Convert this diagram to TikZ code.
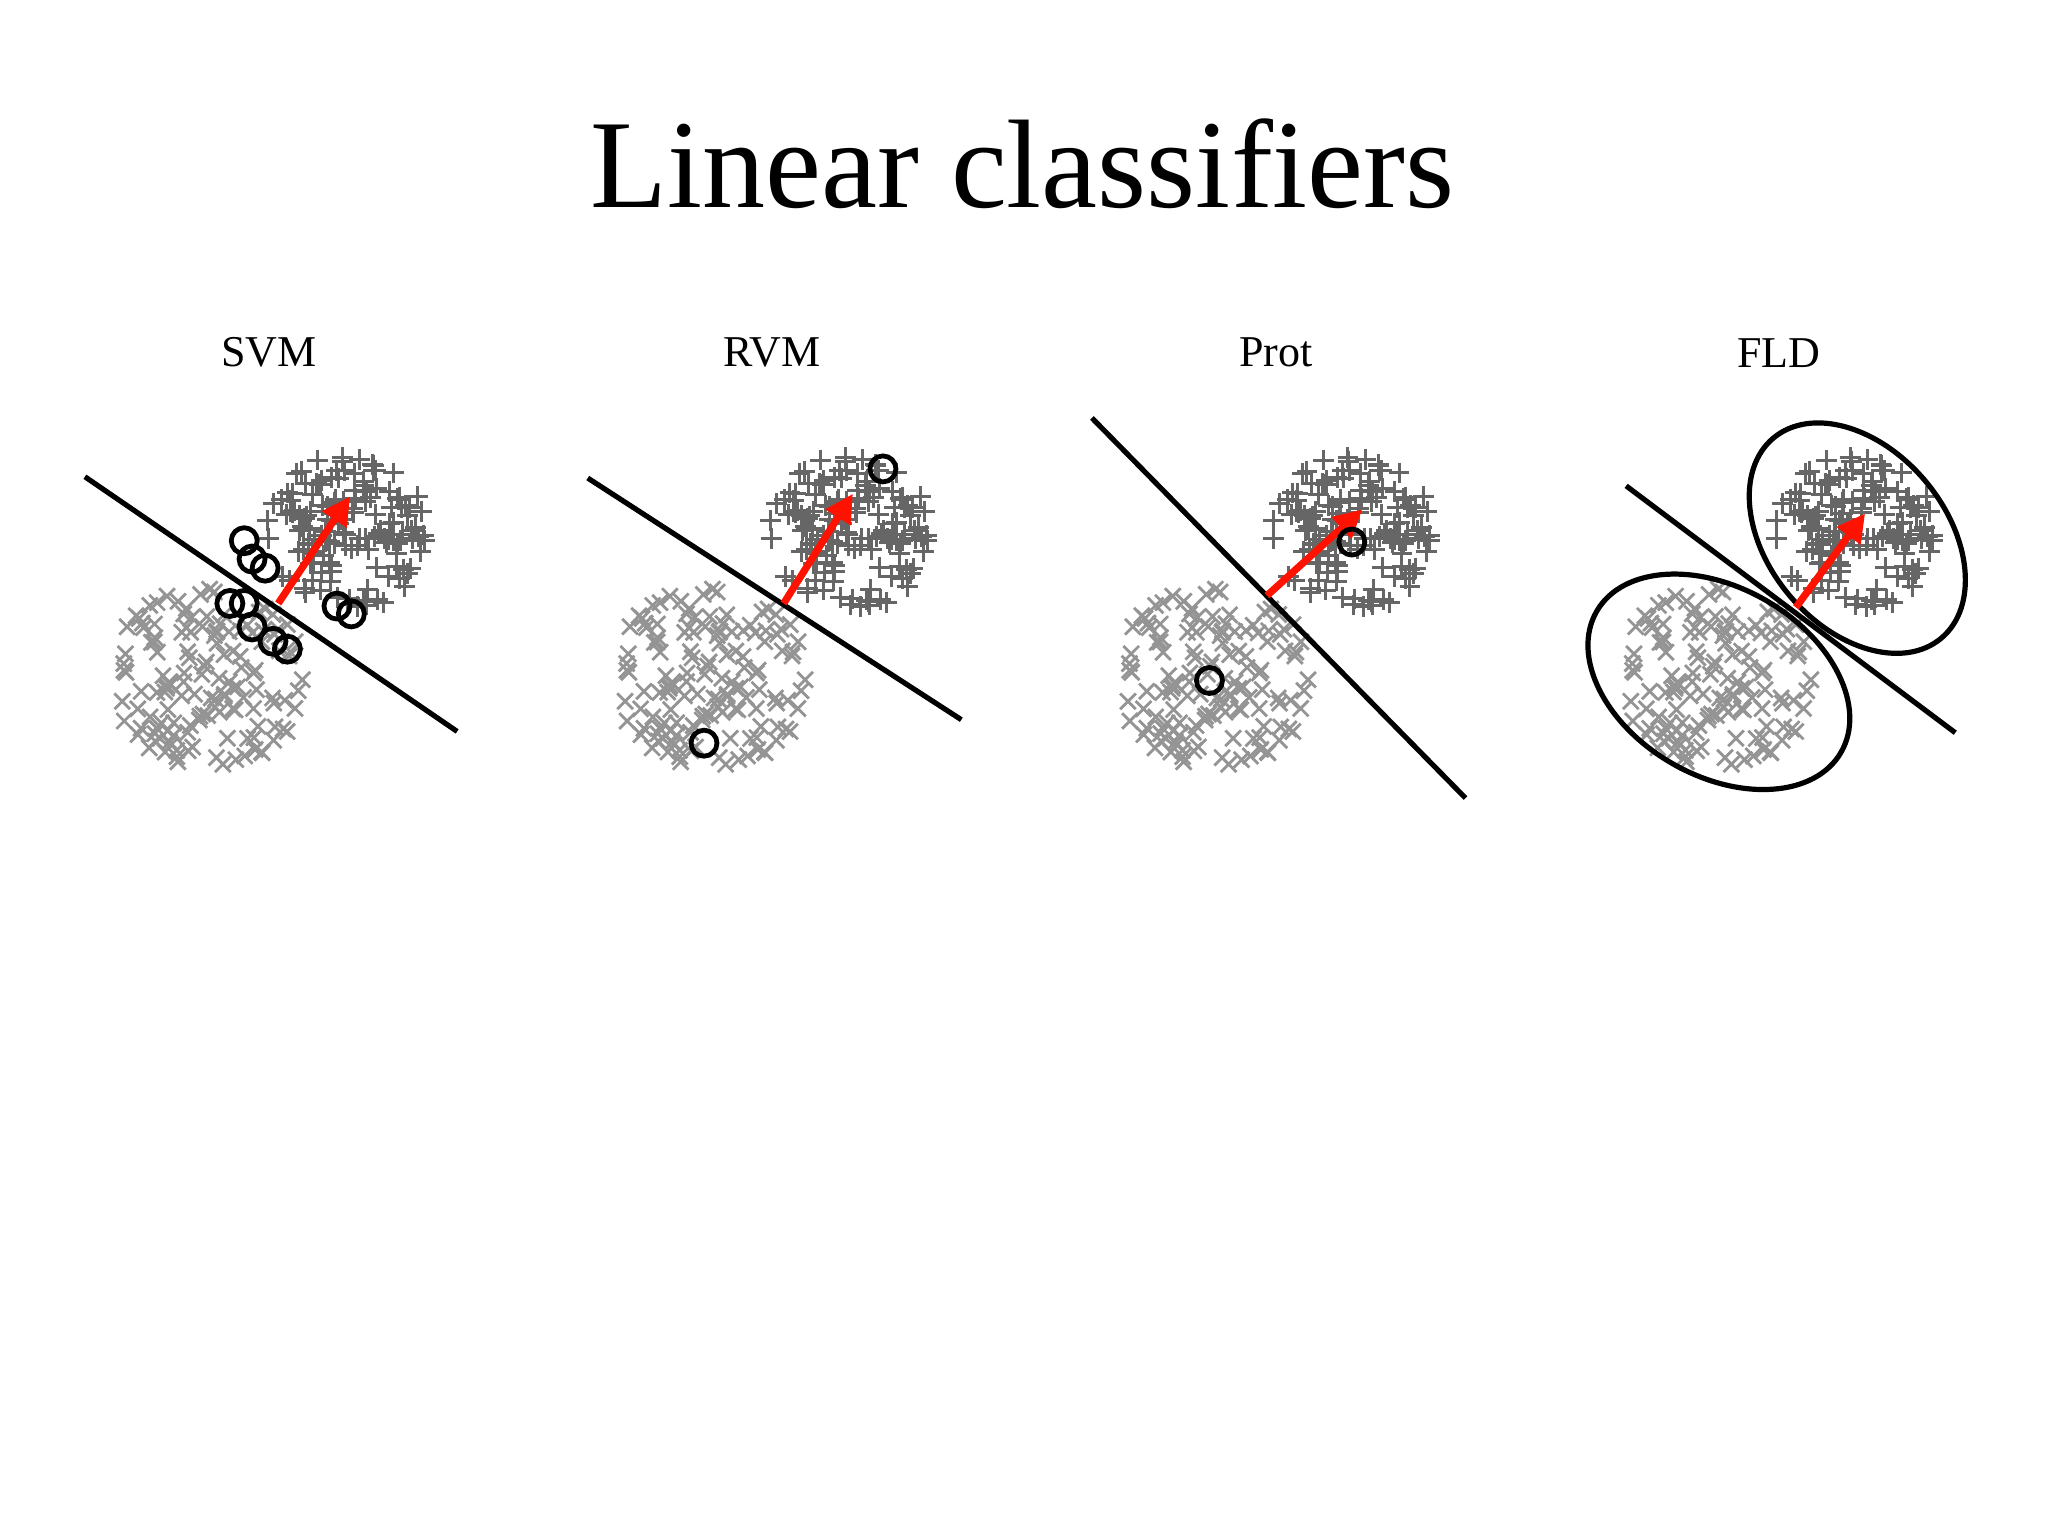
\documentclass[tikz,border=0pt]{standalone}
\usepackage{fontspec}
\setmainfont{Liberation Serif}
\usetikzlibrary{arrows.meta}
\begin{document}
\begin{tikzpicture}[x=0.653pt,y=-0.653pt,
  sep/.style={line width=2.6pt,black},
  wvec/.style={line width=3.6pt,red!85!orange,-{Triangle[length=14pt,width=14pt]}},
  sv/.style={circle,draw=black,line width=2.4pt,minimum size=13pt,inner sep=0pt},
  pl/.style={black!60,line width=1.5pt},
  mi/.style={black!42,line width=1.4pt},
  lab/.style={font=\fontsize{22}{26}\selectfont}]
\useasboundingbox (0,0) rectangle (1568,1176);
\node (title) at (783,125) {\fontsize{63}{72}\selectfont Linear classifiers};
\newcommand{\mycloud}[1]{%
  \pgfmathsetseed{4242}%
  \foreach \i in {1,...,150}{%
    \pgfmathsetmacro{\r}{sqrt(rnd)}\pgfmathsetmacro{\a}{360*rnd}%
    \pgfmathsetmacro{\px}{#1+265+62*\r*cos(\a)}\pgfmathsetmacro{\py}{408+60*\r*sin(\a)}%
    \draw[pl] (\px-8,\py) -- (\px+8,\py) (\px,\py-8) -- (\px,\py+8);}%
  \foreach \i in {1,...,140}{%
    \pgfmathsetmacro{\r}{sqrt(rnd)}\pgfmathsetmacro{\a}{360*rnd}%
    \pgfmathsetmacro{\px}{#1+160+75*\r*cos(\a)}\pgfmathsetmacro{\py}{518+70*\r*sin(\a)}%
    \draw[mi] (\px-6,\py-6) -- (\px+6,\py+6) (\px-6,\py+6) -- (\px+6,\py-6);}%
}
% SVM
\node[lab] (l1) at (206,270) {SVM};
\mycloud{0}
\coordinate (s1a) at (65,365); \coordinate (s1b) at (350,560);
\draw[sep] (s1a) -- (s1b);
\coordinate (w1a) at (213,462); \coordinate (w1b) at (268,380);
\draw[wvec] (w1a) -- (w1b);
\foreach \p [count=\k] in {(187,414),(193,428),(203,435),(176,462),(187,462),(193,480),(209,491),(220,497),(258,464),(269,470)}
  \node[sv] (c\k) at \p {};
% RVM
\node[lab] (l2) at (591,270) {RVM};
\mycloud{385}
\coordinate (s2a) at (450,366); \coordinate (s2b) at (736,551);
\draw[sep] (s2a) -- (s2b);
\coordinate (w2a) at (600,462); \coordinate (w2b) at (653,378);
\draw[wvec] (w2a) -- (w2b);
\node[sv] (r1) at (676,359) {};
\node[sv] (r2) at (539,569) {};
% Prot
\node[lab] (l3) at (977,270) {Prot};
\mycloud{770}
\coordinate (s3a) at (836,320); \coordinate (s3b) at (1122,611);
\draw[sep] (s3a) -- (s3b);
\coordinate (w3a) at (970,456); \coordinate (w3b) at (1043,390);
\draw[wvec] (w3a) -- (w3b);
\node[sv] (p1) at (1035,415) {};
\node[sv] (p2) at (926,521) {};
% FLD
\node[lab] (l4) at (1362,270) {FLD};
\mycloud{1155}
\coordinate (s4a) at (1245,372); \coordinate (s4b) at (1497,561);
\draw[sep] (s4a) -- (s4b);
\draw[line width=2.6pt] (1422,412) ellipse[x radius=100,y radius=68,rotate=-50];
\draw[line width=2.6pt] (1316,522) ellipse[x radius=108,y radius=72,rotate=-30];
\coordinate (w4a) at (1375,465); \coordinate (w4b) at (1428,393);
\draw[wvec] (w4a) -- (w4b);
\end{tikzpicture}
\end{document}
